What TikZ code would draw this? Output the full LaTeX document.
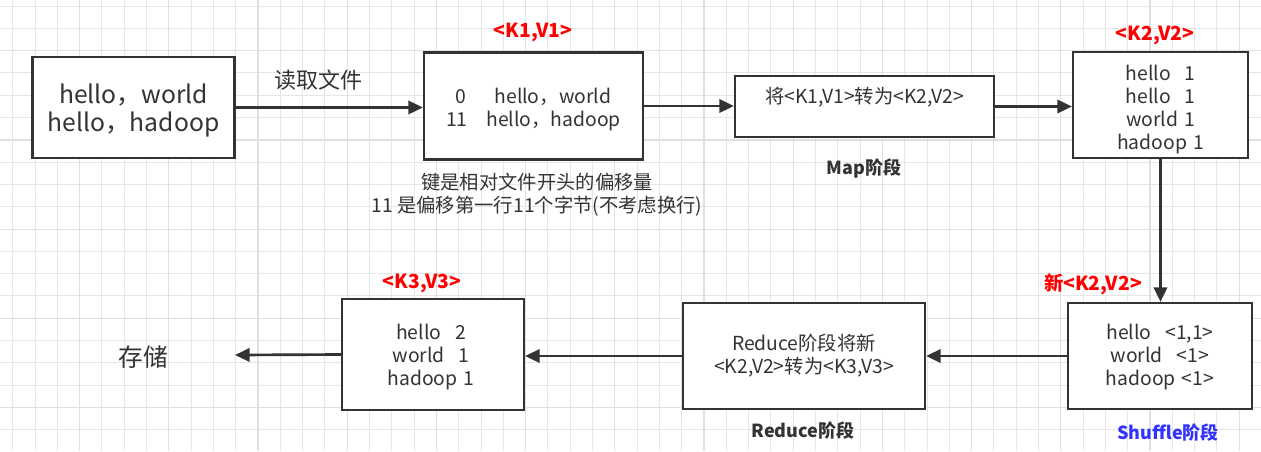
\documentclass[tikz,border=0pt]{standalone}
\usepackage{fontspec}
\setmainfont{Noto Sans CJK SC}
\usetikzlibrary{arrows.meta}
\definecolor{ink}{HTML}{333333}
\definecolor{gridc}{HTML}{E6E6E6}
\definecolor{gridm}{HTML}{E0E0E0}
\definecolor{kred}{HTML}{FF0000}
\definecolor{kblue}{HTML}{3333FF}
\tikzset{
  box/.style={draw=ink, line width=1.6pt, fill=white, rectangle, inner sep=0pt},
  arr/.style={draw=ink, line width=2pt, -{Triangle[length=11pt,width=10pt]}},
  bodytxt/.style={text=ink, align=center, font=\fontsize{14.5}{17.25}\selectfont},
  bigtxt/.style={text=ink, align=center, font=\fontsize{18.5}{21}\selectfont},
  redlab/.style={text=kred, font=\fontsize{14.5}{17}\selectfont\bfseries},
  stagelab/.style={text=ink, font=\fontsize{13.5}{16}\selectfont\bfseries},
}
\newcommand{\sps}{\hspace{10.5pt}}
\newcommand{\spo}{\hspace{4.5pt}}
\begin{document}
\begin{tikzpicture}[x=0.75pt,y=-0.75pt]
\useasboundingbox (0,0) rectangle (1261,451);
\fill[white] (0,0) rectangle (1261,451);
% grid
\foreach \i in {0,...,56} {
  \draw[gridc, line width=0.75pt] ({12.7+22.3*\i},0) -- ({12.7+22.3*\i},451);
}
\foreach \j in {0,...,20} {
  \draw[gridc, line width=0.75pt] (0,{6+22.3*\j}) -- (1261,{6+22.3*\j});
}
\foreach \i in {0,...,14} {
  \draw[gridm, line width=0.9pt] ({79.6+89.2*\i},0) -- ({79.6+89.2*\i},451);
}
\foreach \j in {0,...,5} {
  \draw[gridm, line width=0.9pt] (0,{50.7+89.2*\j}) -- (1261,{50.7+89.2*\j});
}

% boxes
\node[box, minimum width=151.5pt, minimum height=75.75pt] (b1) at (133.5,107.5) {};
\node[bigtxt] (t1) at (133.5,110.5) {hello，world\\hello，hadoop};
\node[box, minimum width=164.25pt, minimum height=80.25pt] (b2) at (533.5,106) {};
\node[bodytxt] (t2) at (533.5,110) {0\hspace{21pt}hello，world\\11\hspace{14pt}hello，hadoop};
\node[box, minimum width=194.25pt, minimum height=45.75pt] (b3) at (864.5,106.5) {};
\node[bodytxt] (t3) at (864.5,97.5) {将<K1,V1>转为<K2,V2>};
\node[box, minimum width=131.25pt, minimum height=79.5pt] (b4) at (1160.5,105) {};
\node[bodytxt] (t4) at (1160.5,110) {hello\sps 1\\hello\sps 1\\world\spo 1\\hadoop\spo 1};
\node[box, minimum width=138pt, minimum height=79.5pt] (b5) at (1160,356) {};
\node[bodytxt] (t5) at (1160,357.5) {hello\sps <1,1>\\world\sps <1>\\hadoop\spo <1>};
\node[box, minimum width=181.5pt, minimum height=79.5pt] (b6) at (804,356) {};
\node[bodytxt] (t6) at (804,356) {Reduce阶段将新\\<K2,V2>转为<K3,V3>};
\node[box, minimum width=136.5pt, minimum height=83.25pt] (b7) at (433,354.5) {};
\node[bodytxt] (t7) at (431,357.5) {hello\sps 2\\world\sps 1\\hadoop\spo 1};
\coordinate (store) at (235,355);
\node[bigtxt] (storetxt) at (143,357) {存储};

% labels
\node[text=ink, font=\fontsize{16.5}{19}\selectfont] (readlab) at (318,80) {读取文件};
\node[redlab] (k1) at (533,32) {<K1,V1>};
\node[redlab] (k2) at (1155,35) {<K2,V2>};
\node[redlab] (k2n) at (1093,284) {新<K2,V2>};
\node[redlab] (k3) at (422,283) {<K3,V3>};
\node[bodytxt, font=\fontsize{14.5}{17.25}\selectfont] (note) at (537,194.5)
  {键是相对文件开头的偏移量\\11 是偏移第一行11个字节(不考虑换行)};
\node[stagelab] (map) at (864,169) {Map阶段};
\node[stagelab] (red) at (803,431) {Reduce阶段};
\node[stagelab, text=kblue] (shuf) at (1168,433) {Shuffle阶段};

% connectors
\draw[arr] (b1.east) -- (b1.east -| b2.west);
\draw[arr] (b2.east) -- (b2.east -| b3.west);
\draw[arr] (b3.east) -- (b3.east -| b4.west);
\draw[arr] (b4.south) -- (b4.south |- b5.north);
\draw[arr] (b5.west) -- (b5.west -| b6.east);
\draw[arr] (b6.west) -- (b6.west -| b7.east);
\draw[arr] (b7.west) -- (store);
\end{tikzpicture}
\end{document}
